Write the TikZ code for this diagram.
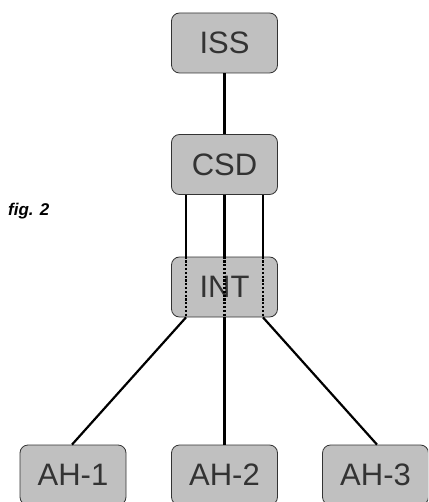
\documentclass[tikz,border=0pt]{standalone}
\usepackage{fontspec}
\setmainfont{Liberation Sans}
\usetikzlibrary{calc}
\begin{document}
\begin{tikzpicture}[x=1pt,y=-1pt]
\definecolor{boxfill}{HTML}{C0C0C0}
\definecolor{txt}{HTML}{333333}
\tikzset{
  box/.style={draw=txt, fill=boxfill, rounded corners=8pt, minimum width=106pt, minimum height=60pt,
    inner sep=0pt, font=\fontsize{31}{31}\selectfont, text=txt, line width=0.8pt},
  link/.style={line width=2.2pt, black},
  dotlink/.style={line width=2.6pt, black, dash pattern=on 2.2pt off 1.6pt},
  caption/.style={font=\fontsize{17}{17}\selectfont\bfseries\itshape, anchor=west, inner sep=0pt}
}
\clip (0,0) rectangle (428,502);
\useasboundingbox (0,0) rectangle (428,502);
\node[box] (ISS) at (224.5,43) {ISS};
\node[box] (CSD) at (224.5,164.5) {CSD};
\node[box] (INT) at (224.5,287) {INT};
\node[box] (AH1) at (73,475) {AH-1};
\node[box] (AH2) at (224.5,475) {AH-2};
\node[box] (AH3) at (375.5,475) {AH-3};
\node[caption] (fig) at (8,211) {fig. 2};
\draw[link] (ISS.south) -- (CSD.north);
\foreach \dx/\n in {-38.5/a,0/b,38.5/c}{
  \coordinate (ct\n) at ($(CSD.south)+(\dx,0)$);
  \coordinate (it\n) at ($(INT.north)+(\dx,0)$);
  \coordinate (ib\n) at ($(INT.south)+(\dx,0)$);
  \draw[link] (ct\n) -- (it\n);
  \draw[dotlink] (it\n) -- (ib\n);
}
\draw[link] (iba) -- ($(AH1.north)+(-1,0)$);
\draw[link] (ibb) -- (AH2.north);
\draw[link] (ibc) -- ($(AH3.north)+(1.5,0)$);
\end{tikzpicture}
\end{document}
